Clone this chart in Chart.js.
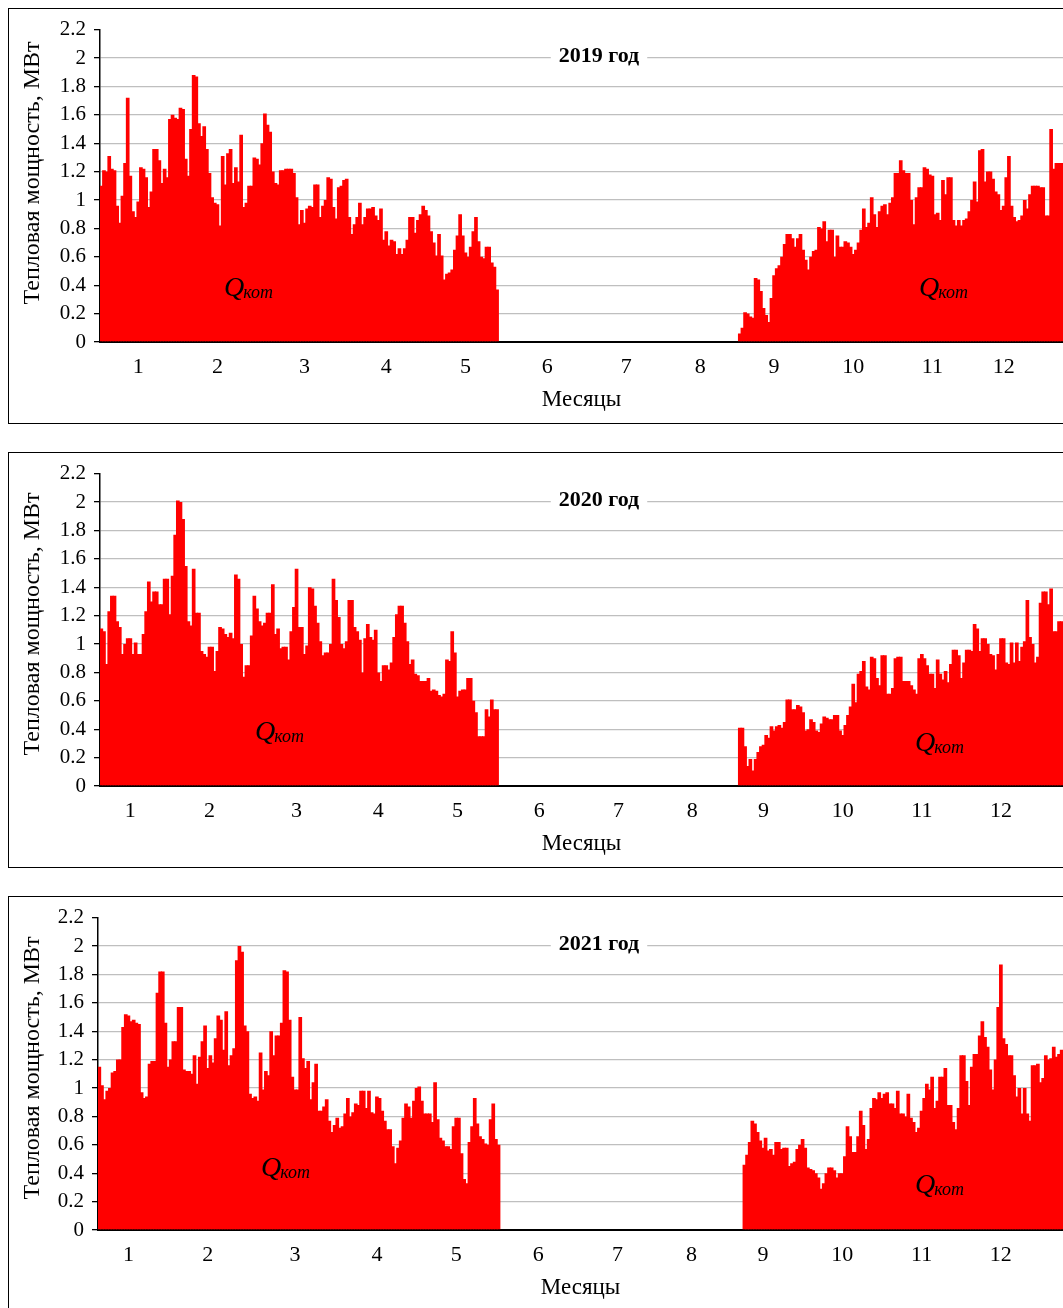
<!DOCTYPE html>
<html>
<head>
<meta charset="utf-8">
<script src="https://cdn.jsdelivr.net/npm/chart.js@4.4.1/dist/chart.umd.min.js"></script>
<style>
  html, body { margin: 0; padding: 0; background: #fff; overflow: hidden; }
  .panel { position: absolute; left: 8px; width: 1068px; height: 414px; border: 1px solid #000; background: #fff; }
  .panel canvas { display: block; }
</style>
</head>
<body>
<div class="panel" style="top: 8px"><canvas id="c2019" width="1066" height="414"></canvas></div>
<div class="panel" style="top: 452px"><canvas id="c2020" width="1066" height="414"></canvas></div>
<div class="panel" style="top: 896px"><canvas id="c2021" width="1066" height="414"></canvas></div>
<script>
const DAYS = 365;
const SERIF = "'Liberation Serif', 'Times New Roman', serif";

const monthLabels = ['1', '2', '3', '4', '5', '6', '7', '8', '9', '10', '11', '12'];
// day index under each month number (labels are not exactly mid-month)
const monthTickDays2019 = [14, 44, 77, 108, 138, 169, 199, 227, 255, 285, 315, 342];
const monthTickDays = [11, 41, 74, 105, 135, 166, 196, 224, 251, 281, 311, 341];

// daily boiler heat output Q, MW, Jan 1 .. end of May
const q2019Spring = [
  1.10, 1.21, 1.20, 1.31, 1.22, 1.21, 0.96, 0.84, 1.03, 1.26, 1.72, 1.17, 0.92, 0.88,
  0.99, 1.23, 1.22, 1.16, 0.95, 1.06, 1.36, 1.36, 1.28, 1.12, 1.22, 1.16, 1.57, 1.60, 1.58,
  1.57, 1.65, 1.64, 1.29, 1.17, 1.50, 1.88, 1.87, 1.54, 1.45, 1.52, 1.36, 1.19, 1.02, 0.98,
  0.97, 0.82, 1.31, 1.11, 1.33, 1.36, 1.12, 1.23, 1.13, 1.46, 0.95, 0.98, 1.10, 1.10, 1.30,
  1.29, 1.25, 1.40, 1.61, 1.53, 1.48, 1.20, 1.12, 1.11, 1.21, 1.21, 1.22, 1.22, 1.22, 1.19,
  1.02,
  0.83, 0.93, 0.84, 0.94, 0.96, 0.95, 1.11, 1.11, 0.88, 0.96, 1.00, 1.16, 1.15, 0.95, 0.87,
  1.09, 1.10, 1.14, 1.15, 0.88, 0.76, 0.83, 0.88, 0.98, 0.83, 0.88, 0.94, 0.94, 0.95, 0.89,
  0.86, 0.94, 0.72, 0.78, 0.68, 0.72, 0.71, 0.62, 0.66, 0.62, 0.66, 0.72, 0.88, 0.88, 0.77,
  0.86, 0.90, 0.96, 0.93, 0.89, 0.78, 0.70, 0.61, 0.76, 0.61, 0.44, 0.48, 0.49, 0.51, 0.65,
  0.75, 0.90, 0.75, 0.63, 0.60, 0.67, 0.78, 0.88, 0.71, 0.60, 0.59, 0.67, 0.67, 0.56, 0.53,
  0.37
];
const q2019Autumn = [
  0.06, 0.10, 0.21, 0.20, 0.18, 0.17, 0.45, 0.44, 0.36, 0.24, 0.19, 0.14, 0.31, 0.47, 0.52,
  0.54, 0.60, 0.69, 0.76, 0.76, 0.73, 0.67, 0.73, 0.76, 0.65, 0.58, 0.51, 0.60, 0.64, 0.65,
  0.81, 0.80, 0.85, 0.71, 0.79, 0.79, 0.60, 0.75, 0.67, 0.67, 0.71, 0.70, 0.67, 0.62, 0.65,
  0.70, 0.79, 0.94, 0.81, 0.84, 1.02, 0.90, 0.81, 0.92, 0.96, 0.97, 0.90, 0.98, 1.02, 1.19,
  1.19, 1.28, 1.21, 1.19, 1.19, 1.00, 0.83, 1.02, 1.09, 1.09, 1.23, 1.22, 1.18, 1.17, 0.90,
  0.91, 0.86, 1.14, 1.04, 1.16, 1.16, 0.86, 0.82, 0.86, 0.82, 0.86, 0.87, 0.92, 1.00, 1.13,
  0.99, 1.35, 1.36, 1.13, 1.20, 1.20, 1.15, 1.06, 1.04, 0.93, 0.96, 1.16, 1.31, 0.96, 0.88,
  0.85, 0.86, 0.89, 1.00, 0.94, 1.04, 1.10, 1.10, 1.10, 1.09, 1.09, 0.89, 0.89, 1.50, 1.22,
  1.26, 1.26, 1.26
];

const q2020Spring = [
  1.11, 1.09, 0.86, 1.23, 1.34, 1.34, 1.16, 1.12, 0.93, 1.00, 1.04, 1.04, 0.93, 1.01, 0.93,
  0.93, 1.07, 1.23, 1.44, 1.30, 1.37, 1.37, 1.28, 1.28, 1.46, 1.46, 1.21, 1.48, 1.77, 2.01,
  2.00, 1.88, 1.55, 1.16, 1.13, 1.53, 1.22, 1.22, 0.95, 0.93, 0.91, 0.98, 0.98, 0.81, 0.95,
  1.12, 1.11, 1.07, 1.05, 1.08, 1.04, 1.49, 1.46, 1.00, 0.77, 0.85, 0.85, 1.06, 1.34, 1.25,
  1.16, 1.13, 1.15, 1.22, 1.22, 1.42, 1.07, 1.11, 0.97, 0.98, 0.98, 0.89, 1.09, 1.26, 1.53,
  1.12,
  1.12, 0.93, 0.99, 1.40, 1.39, 1.27, 1.15, 1.02, 0.92, 0.94, 0.94, 1.00, 1.46, 1.31, 1.19,
  1.00, 0.97, 1.02, 1.31, 1.31, 1.12, 1.09, 1.03, 0.80, 1.04, 1.14, 1.05, 1.03, 1.10, 0.80,
  0.74, 0.85, 0.85, 0.82, 0.87, 1.05, 1.21, 1.27, 1.27, 1.15, 1.02, 0.86, 0.89, 0.79, 0.78,
  0.74, 0.74, 0.74, 0.76, 0.67, 0.68, 0.67, 0.64, 0.63, 0.65, 0.89, 0.88, 1.09, 0.94, 0.63,
  0.67, 0.68, 0.68, 0.76, 0.76, 0.60, 0.52, 0.35, 0.35, 0.35, 0.54, 0.49, 0.61, 0.54, 0.54
];
const q2020Autumn = [
  0.41, 0.41, 0.28, 0.14, 0.19, 0.11, 0.19, 0.24, 0.28, 0.29, 0.36, 0.34, 0.42, 0.39, 0.42,
  0.43, 0.41, 0.45, 0.61, 0.61, 0.54, 0.54, 0.57, 0.56, 0.52, 0.39, 0.40, 0.47, 0.45, 0.39,
  0.38, 0.44, 0.49, 0.48, 0.47, 0.47, 0.50, 0.50, 0.39, 0.36, 0.43, 0.50, 0.56, 0.72, 0.59,
  0.79, 0.81, 0.88, 0.70, 0.68, 0.91, 0.90, 0.76, 0.71, 0.92, 0.92, 0.65, 0.65, 0.69, 0.90,
  0.91, 0.91, 0.74, 0.74, 0.74, 0.71, 0.68, 0.65, 0.90, 0.93, 0.90, 0.85, 0.79, 0.79, 0.69,
  0.89, 0.79, 0.75, 0.81, 0.73, 0.86, 0.96, 0.96, 0.92, 0.76, 0.87, 0.96, 0.96, 0.95, 1.14,
  1.11, 0.95, 1.04, 1.04, 1.00, 0.93, 0.92, 0.82, 0.93, 1.04, 1.04, 0.87, 0.86, 1.01, 0.87,
  1.01, 0.88, 0.98, 1.02, 1.31, 1.05, 1.00, 0.87, 0.91, 1.29, 1.37, 1.37, 1.28, 1.39, 1.09,
  1.09, 1.16, 1.16
];

const q2021Spring = [
  1.15, 1.02, 0.92, 0.98, 1.00, 1.11, 1.12, 1.20, 1.20, 1.43, 1.52, 1.51, 1.47, 1.48, 1.46,
  1.45, 0.97, 0.93, 0.94, 1.17, 1.19, 1.19, 1.67, 1.82, 1.82, 1.46, 1.15, 1.20, 1.33, 1.33,
  1.57, 1.57, 1.13, 1.12, 1.12, 1.10, 1.23, 1.03, 1.22, 1.33, 1.44, 1.14, 1.23, 1.18, 1.35,
  1.51, 1.48, 1.27, 1.54, 1.16, 1.23, 1.28, 1.90, 2.00, 1.96, 1.44, 1.40, 0.96, 0.93, 0.94,
  0.91, 1.25, 0.99, 1.12, 1.09, 1.40, 1.23, 1.37, 1.37, 1.46, 1.83, 1.82, 1.48, 1.08, 0.99,
  0.99, 1.50,
  1.21, 1.14, 1.19, 0.92, 1.04, 1.17, 0.84, 0.84, 0.87, 0.92, 0.77, 0.69, 0.74, 0.79, 0.72,
  0.73, 0.82, 0.93, 0.80, 0.83, 0.89, 0.88, 0.98, 0.98, 0.86, 0.98, 0.83, 0.82, 0.94, 0.93,
  0.84, 0.77, 0.71, 0.71, 0.59, 0.47, 0.58, 0.63, 0.79, 0.89, 0.87, 0.79, 0.91, 1.00, 1.01,
  0.91, 0.82, 0.82, 0.82, 0.76, 1.04, 0.78, 0.65, 0.63, 0.59, 0.59, 0.57, 0.73, 0.79, 0.79,
  0.54, 0.36, 0.33, 0.62, 0.73, 0.93, 0.75, 0.66, 0.64, 0.61, 0.60, 0.78, 0.89, 0.64, 0.60
];
const q2021Autumn = [
  0.46, 0.53, 0.62, 0.77, 0.75, 0.69, 0.63, 0.58, 0.65, 0.56, 0.57, 0.53, 0.62, 0.62, 0.57,
  0.58, 0.58, 0.45, 0.47, 0.48, 0.57, 0.60, 0.64, 0.58, 0.44, 0.43, 0.42, 0.40, 0.37, 0.29,
  0.33, 0.40, 0.44, 0.44, 0.42, 0.37, 0.40, 0.40, 0.52, 0.73, 0.66, 0.55, 0.55, 0.66, 0.84,
  0.74, 0.57, 0.64, 0.86, 0.93, 0.92, 0.97, 0.93, 0.96, 0.97, 0.89, 0.89, 0.86, 0.98, 0.82,
  0.82,
  0.80, 0.96, 0.79, 0.76, 0.69, 0.72, 0.84, 0.93, 1.03, 0.99, 1.08, 0.86, 0.91, 1.08, 1.08,
  1.14, 0.88, 0.88, 0.76, 0.71, 0.86, 1.23, 1.23, 1.05, 0.88, 1.15, 1.24, 1.24, 1.37, 1.47,
  1.36, 1.29, 1.13, 0.99, 1.20, 1.57, 1.87, 1.35, 1.31, 1.23, 1.23, 1.09, 0.94, 1.00, 0.82,
  1.00, 0.82, 0.77, 1.16, 1.16, 1.17, 1.04, 1.07, 1.23, 1.20, 1.21, 1.29, 1.22, 1.24, 1.27
];

// first day (0-based) of the autumn heating period
const autumnStart2019 = 242;
const autumnStart2020 = 242;
const autumnStart2021 = 244;

function dailySeries(spring, autumn, start) {
  const out = new Array(DAYS).fill(null);
  spring.forEach((v, i) => { out[i] = v; });
  autumn.forEach((v, i) => { out[start + i] = v; });
  return out;
}

// title in the plot with a white plate, the y title, and the two Q_kot labels
const panelText = {
  id: 'panelText',
  afterDatasetsDraw(chart, args, opts) {
    const ctx = chart.ctx;
    ctx.save();
    ctx.font = 'bold 22px ' + SERIF;
    const w = ctx.measureText(opts.title).width;
    ctx.fillStyle = '#fff';
    ctx.fillRect(opts.titleX - w / 2 - 8, opts.titleY - 13, w + 16, 26);
    ctx.fillStyle = '#000';
    ctx.textAlign = 'center';
    ctx.textBaseline = 'middle';
    ctx.fillText(opts.title, opts.titleX, opts.titleY);

    ctx.save();
    ctx.translate(24, opts.yTitleY);
    ctx.rotate(-Math.PI / 2);
    ctx.font = '24px ' + SERIF;
    ctx.fillText('Тепловая мощность, МВт', 0, 0);
    ctx.restore();

    ctx.textAlign = 'left';
    ctx.textBaseline = 'alphabetic';
    opts.qLabels.forEach(([x, y]) => {
      ctx.font = 'italic 28px ' + SERIF;
      ctx.fillText('Q', x, y);
      const qw = ctx.measureText('Q').width;
      ctx.font = 'italic 18px ' + SERIF;
      ctx.fillText('кот', x + qw - 1, y + 2);
    });
    ctx.restore();
  }
};

function makeChart(id, title, data, tickDays, axisWidth, yTitleY, qLabels) {
  return new Chart(document.getElementById(id), {
    type: 'bar',
    data: {
      labels: Array.from({ length: DAYS }, (_, i) => i + 1),
      datasets: [{
        data: data,
        backgroundColor: '#ff0000',
        borderWidth: 0,
        // slightly wider than a day so neighbouring bars overlap and no seams show
        barPercentage: 1.4,
        categoryPercentage: 1
      }]
    },
    options: {
      responsive: false,
      animation: false,
      events: [],
      layout: { padding: { top: 19, right: 12, left: 0, bottom: 0 } },
      plugins: {
        legend: { display: false },
        tooltip: { enabled: false },
        panelText: { title: title, titleX: 590, titleY: 47, yTitleY: yTitleY, qLabels: qLabels }
      },
      scales: {
        x: {
          grid: { display: false, drawTicks: false },
          border: { color: '#000', width: 2 },
          ticks: {
            autoSkip: false,
            maxRotation: 0,
            minRotation: 0,
            padding: 12,
            color: '#000',
            font: { family: SERIF, size: 22 },
            callback: (value, index) => {
              const m = tickDays.indexOf(index);
              return m < 0 ? '' : monthLabels[m];
            }
          },
          title: {
            display: true,
            text: 'Месяцы',
            color: '#000',
            font: { family: SERIF, size: 23 },
            padding: { top: 0, bottom: 9 }
          },
          afterFit: s => { s.height = 81; }
        },
        y: {
          min: 0,
          max: 2.2,
          ticks: {
            stepSize: 0.2,
            padding: 8,
            color: '#000',
            font: { family: SERIF, size: 21 },
            callback: v => String(+v.toFixed(1))
          },
          grid: {
            color: c => (c.tick && Math.abs(c.tick.value - 2.2) < 1e-6) ? 'rgba(0,0,0,0)' : '#bfbfbf',
            lineWidth: 1.3,
            tickColor: '#000',
            tickLength: 6
          },
          border: { color: '#000', width: 1.5 },
          afterFit: s => { s.width = axisWidth; }
        }
      }
    },
    plugins: [panelText]
  });
}

makeChart('c2019', '2019 год', dailySeries(q2019Spring, q2019Autumn, autumnStart2019),
  monthTickDays2019, 91, 164, [[215, 287], [910, 287]]);
makeChart('c2020', '2020 год', dailySeries(q2020Spring, q2020Autumn, autumnStart2020),
  monthTickDays, 91, 171, [[246, 287], [906, 298]]);
makeChart('c2021', '2021 год', dailySeries(q2021Spring, q2021Autumn, autumnStart2021),
  monthTickDays, 89, 171, [[252, 279], [906, 296]]);
</script>
</body>
</html>
